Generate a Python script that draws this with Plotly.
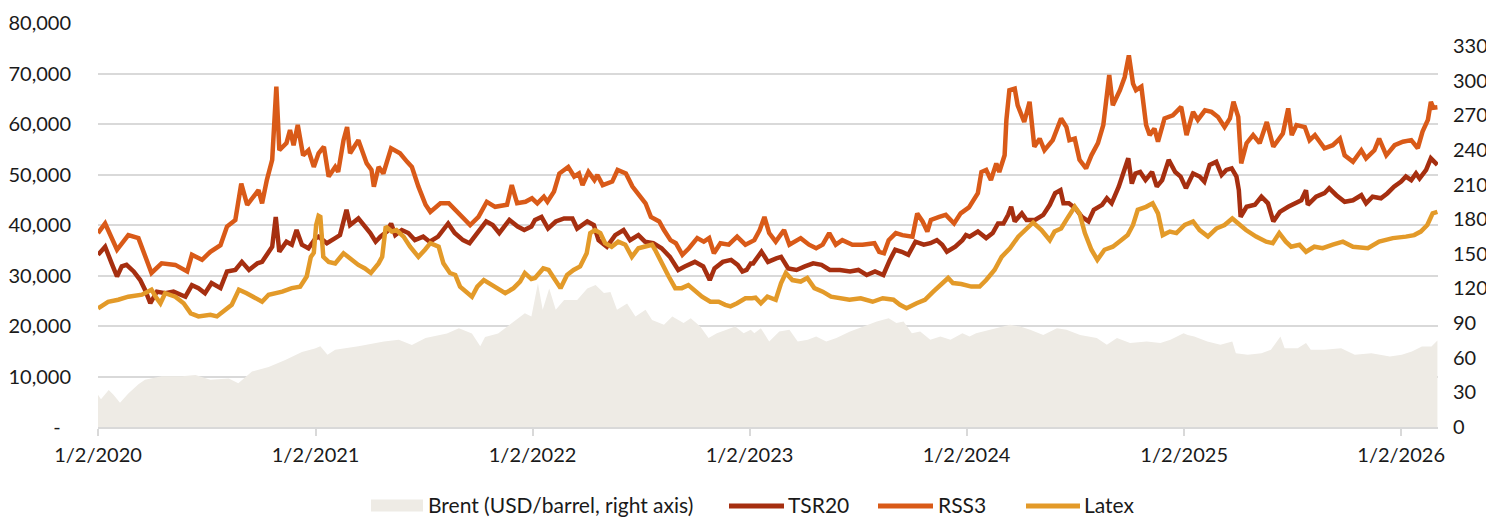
import plotly.graph_objects as go

# ---------------- data ----------------
rss3_dates = ["2020-01-02","2020-01-14","2020-02-03","2020-02-22","2020-03-10","2020-03-21","2020-04-01","2020-04-18","2020-05-11","2020-05-31","2020-06-08","2020-06-25","2020-07-09","2020-07-26","2020-08-06","2020-08-20","2020-08-30","2020-09-09","2020-09-17","2020-09-28","2020-10-04","2020-10-12","2020-10-21","2020-10-28","2020-11-02","2020-11-14","2020-11-20","2020-11-26","2020-12-03","2020-12-12","2020-12-21","2020-12-30",
"2021-01-07","2021-01-16","2021-01-24","2021-02-04","2021-02-09","2021-02-18","2021-02-24","2021-03-01","2021-03-15","2021-03-29","2021-04-06","2021-04-10","2021-04-18","2021-04-26","2021-05-09","2021-05-24","2021-06-05","2021-06-13","2021-06-24","2021-07-06","2021-07-14","2021-07-31","2021-08-14","2021-08-25","2021-09-11","2021-09-19","2021-10-03","2021-10-17","2021-10-31","2021-11-20","2021-11-28","2021-12-07","2021-12-21",
"2022-01-01","2022-01-10","2022-01-21","2022-01-27","2022-02-07","2022-02-16","2022-03-03","2022-03-13","2022-03-21","2022-03-27","2022-04-06","2022-04-16","2022-04-21","2022-04-30","2022-05-16","2022-05-25","2022-06-08","2022-06-19","2022-06-30","2022-07-11","2022-07-20","2022-08-03","2022-08-11","2022-08-22","2022-08-31","2022-09-11","2022-09-22","2022-10-06","2022-10-17","2022-10-26","2022-11-03","2022-11-14","2022-11-28","2022-12-12","2022-12-26",
"2023-01-10","2023-01-19","2023-01-27","2023-02-04","2023-02-15","2023-03-01","2023-03-10","2023-03-29","2023-04-12","2023-04-24","2023-05-05","2023-05-16","2023-05-27","2023-06-07","2023-06-24","2023-07-11","2023-07-31","2023-08-08","2023-08-16","2023-08-24","2023-09-05","2023-09-16","2023-10-03","2023-10-11","2023-10-20","2023-10-28","2023-11-03","2023-11-17","2023-11-28","2023-12-12","2023-12-23",
"2024-01-06","2024-01-21","2024-01-27","2024-02-04","2024-02-12","2024-02-21","2024-02-26","2024-03-06","2024-03-09","2024-03-14","2024-03-23","2024-03-28","2024-04-08","2024-04-17","2024-04-25","2024-05-04","2024-05-12","2024-05-26","2024-06-09","2024-06-18","2024-06-23","2024-07-02","2024-07-10","2024-07-21","2024-07-30","2024-08-10","2024-08-19","2024-08-24","2024-08-29","2024-09-04","2024-09-16","2024-09-24","2024-10-01","2024-10-08","2024-10-13","2024-10-22","2024-10-30","2024-11-05","2024-11-13","2024-11-19","2024-11-30","2024-12-14","2024-12-28",
"2025-01-06","2025-01-17","2025-01-25","2025-02-06","2025-02-17","2025-02-28","2025-03-11","2025-03-20","2025-03-26","2025-04-03","2025-04-08","2025-04-17","2025-04-28","2025-05-09","2025-05-21","2025-06-01","2025-06-17","2025-06-26","2025-07-02","2025-07-10","2025-07-24","2025-08-01","2025-08-10","2025-08-26","2025-09-09","2025-09-21","2025-09-29","2025-10-13","2025-10-27","2025-11-04","2025-11-18","2025-11-26","2025-12-08","2025-12-22",
"2026-01-05","2026-01-19","2026-01-30","2026-02-07","2026-02-16","2026-02-21","2026-02-25","2026-03-04"]
rss3_values = [38400,40300,35100,38000,37400,33700,30500,32400,32100,30800,34100,33100,34700,36000,39700,41000,48200,44000,45300,46900,44300,48900,52900,67400,54800,56200,58800,55800,59800,53800,54800,51500,
54200,55500,49600,51500,50500,56800,59400,54200,56800,52200,50900,47600,51500,50200,55200,54200,52500,51500,47600,44000,42600,44300,44300,43000,40700,40000,41600,44600,43600,44000,47900,44300,44600,
45300,44300,45600,44600,46600,50200,51500,49600,50200,47900,50500,48900,49900,47900,48600,50900,50200,47600,45900,44300,41600,40700,39000,37000,36400,34100,35400,37400,36700,37400,34400,36400,36100,37700,36100,
37000,39000,41600,38400,36700,39000,36100,37400,36100,35400,36100,38400,36100,37000,36100,36100,36400,34700,34400,37000,38400,38000,37700,42300,40700,38700,41000,41600,42000,40300,42300,
43500,46300,50500,50900,48900,52200,50500,53800,60800,66700,67000,63700,60400,64400,55500,57100,54800,56800,61100,59400,56800,57100,52900,51200,53800,56200,59800,64100,69700,63700,66700,69300,73600,68000,66700,67400,59800,57800,59100,56500,61100,61700,63400,
57800,62400,60800,62700,62400,61400,59400,61100,64400,61400,52200,56200,57800,56200,60400,55500,58100,63100,57800,59800,59400,56800,57800,55200,55800,57100,53800,52500,54800,53200,54800,57100,53800,55800,
56500,56800,55200,58500,60800,64400,63200,63300]

tsr20_dates = ["2020-01-02","2020-01-14","2020-01-25","2020-02-03","2020-02-11","2020-02-19","2020-03-02","2020-03-13","2020-03-21","2020-03-30","2020-04-10","2020-04-24","2020-05-08","2020-05-19","2020-05-28","2020-06-08","2020-06-19","2020-06-30","2020-07-11","2020-07-26","2020-08-06","2020-08-20","2020-08-31","2020-09-12","2020-09-26","2020-10-04","2020-10-15","2020-10-21","2020-10-27","2020-11-02","2020-11-14","2020-11-23","2020-12-01","2020-12-10","2020-12-21",
"2021-01-02","2021-01-07","2021-01-21","2021-02-04","2021-02-12","2021-02-23","2021-03-01","2021-03-15","2021-03-26","2021-04-04","2021-04-13","2021-04-21","2021-05-02","2021-05-09","2021-05-16","2021-05-27","2021-06-07","2021-06-18","2021-07-02","2021-07-13","2021-07-27","2021-08-13","2021-08-24","2021-09-07","2021-09-18","2021-10-02","2021-10-16","2021-10-27","2021-11-07","2021-11-24","2021-12-08","2021-12-19","2021-12-31",
"2022-01-06","2022-01-17","2022-01-28","2022-02-10","2022-02-24","2022-03-10","2022-03-18","2022-04-04","2022-04-15","2022-04-23","2022-05-07","2022-05-21","2022-06-04","2022-06-15","2022-06-29","2022-07-10","2022-07-24","2022-08-07","2022-08-21","2022-09-04","2022-09-15","2022-10-02","2022-10-16","2022-10-27","2022-11-04","2022-11-18","2022-12-02","2022-12-13","2022-12-21","2022-12-28",
"2023-01-04","2023-01-08","2023-01-22","2023-02-02","2023-02-16","2023-02-24","2023-03-08","2023-03-22","2023-04-05","2023-04-19","2023-05-03","2023-05-17","2023-06-03","2023-06-20","2023-07-04","2023-07-18","2023-08-01","2023-08-15","2023-08-26","2023-09-04","2023-09-15","2023-09-26","2023-10-08","2023-10-22","2023-11-02","2023-11-13","2023-11-22","2023-11-30","2023-12-14","2023-12-26",
"2024-01-01","2024-01-07","2024-01-21","2024-02-04","2024-02-15","2024-02-24","2024-03-04","2024-03-12","2024-03-17","2024-03-23","2024-04-04","2024-04-12","2024-04-26","2024-05-10","2024-05-21","2024-05-30","2024-06-08","2024-06-13","2024-06-22","2024-07-03","2024-07-14","2024-07-25","2024-08-03","2024-08-17","2024-08-25","2024-09-02","2024-09-14","2024-09-25","2024-09-30","2024-10-06","2024-10-12","2024-10-20","2024-10-29","2024-11-09","2024-11-17","2024-11-26","2024-12-07","2024-12-18","2024-12-27",
"2025-01-05","2025-01-17","2025-01-28","2025-02-05","2025-02-14","2025-02-25","2025-03-06","2025-03-14","2025-03-23","2025-03-31","2025-04-04","2025-04-07","2025-04-17","2025-05-01","2025-05-12","2025-05-23","2025-06-01","2025-06-12","2025-06-26","2025-07-10","2025-07-18","2025-07-26","2025-07-29","2025-08-12","2025-08-26","2025-09-03","2025-09-15","2025-09-29","2025-10-13","2025-10-27","2025-11-04","2025-11-15","2025-11-29","2025-12-10","2025-12-21",
"2026-01-02","2026-01-10","2026-01-19","2026-01-27","2026-02-02","2026-02-13","2026-02-21","2026-03-04"]
tsr20_values = [34100,35700,32400,29800,31800,32100,30800,29100,27200,24500,26800,26500,26800,26200,25800,28100,27500,26500,28500,27500,30800,31100,32700,31100,32400,32700,34700,35700,41600,34700,36700,36100,39000,36100,35400,
37400,37700,36400,37400,38000,43000,40000,41300,39700,38400,36700,37700,38700,40300,38000,39000,38400,37000,37700,36700,37700,40300,38400,37000,36400,38700,40700,40000,38400,41000,39700,39000,39700,
41000,41600,39300,40700,41300,41300,39300,40700,40000,37000,35700,38000,39000,37000,38000,36700,36400,35400,33700,31100,31800,32700,31800,29100,31400,32700,33100,32100,30800,31100,
32400,32400,34700,32700,33400,33700,31400,31100,31800,32400,32100,31100,31100,30800,31100,30100,30800,30100,33100,35100,34700,34100,36700,36100,36400,37000,36100,34700,35700,37000,
38000,37700,38700,37400,38400,40300,40300,42000,43600,40700,42300,41000,41000,42000,44000,46300,46900,44300,44300,43300,41600,40700,43000,44000,45300,44300,47600,51200,53200,48200,50200,50500,48900,50500,47600,48900,52900,50500,49600,
47300,50200,49600,48600,51900,52500,49900,50900,51200,49600,46900,41600,43600,44000,45600,44300,40700,42600,43600,44300,44900,46900,44000,45600,46300,47300,45900,44600,44900,45900,44300,45600,45300,46300,47600,
48600,49600,48900,50200,49200,50900,53200,51900]

latex_dates = ["2020-01-02","2020-01-19","2020-02-05","2020-02-22","2020-03-16","2020-04-01","2020-04-08","2020-04-16","2020-04-24","2020-05-11","2020-05-25","2020-06-06","2020-06-19","2020-07-09","2020-07-20","2020-08-03","2020-08-14","2020-08-26","2020-09-08","2020-10-04","2020-10-15","2020-11-07","2020-11-23","2020-12-07","2020-12-18","2020-12-25","2020-12-30",
"2021-01-03","2021-01-07","2021-01-10","2021-01-15","2021-01-24","2021-02-04","2021-02-18","2021-03-04","2021-03-15","2021-03-26","2021-04-05","2021-04-18","2021-04-24","2021-04-30","2021-05-10","2021-05-18","2021-05-30","2021-06-10","2021-06-24","2021-07-05","2021-07-14","2021-07-28","2021-08-05","2021-08-16","2021-08-25","2021-09-02","2021-09-11","2021-09-22","2021-10-01","2021-10-12","2021-10-26","2021-11-09","2021-11-17","2021-12-01","2021-12-12","2021-12-20","2021-12-31",
"2022-01-06","2022-01-20","2022-01-29","2022-02-09","2022-02-18","2022-03-01","2022-03-12","2022-03-23","2022-04-03","2022-04-09","2022-04-17","2022-04-26","2022-05-04","2022-05-15","2022-05-26","2022-06-07","2022-06-18","2022-06-29","2022-07-11","2022-07-22","2022-07-27","2022-08-08","2022-08-19","2022-08-30","2022-09-10","2022-09-21","2022-10-03","2022-10-14","2022-10-28","2022-11-11","2022-11-22","2022-12-01","2022-12-12","2022-12-26",
"2023-01-06","2023-01-12","2023-01-21","2023-02-01","2023-02-15","2023-02-24","2023-03-04","2023-03-15","2023-03-29","2023-04-09","2023-04-21","2023-05-05","2023-05-19","2023-06-02","2023-06-19","2023-07-08","2023-07-28","2023-08-14","2023-09-01","2023-09-12","2023-09-23","2023-10-10","2023-10-24","2023-11-07","2023-11-18","2023-12-02","2023-12-10","2023-12-24",
"2024-01-10","2024-01-24","2024-02-04","2024-02-18","2024-03-01","2024-03-15","2024-03-29","2024-04-12","2024-04-23","2024-05-07","2024-05-21","2024-05-29","2024-06-09","2024-06-21","2024-07-02","2024-07-10","2024-07-19","2024-07-30","2024-08-09","2024-08-21","2024-09-04","2024-09-18","2024-09-29","2024-10-08","2024-10-16","2024-10-30","2024-11-10","2024-11-19","2024-11-27","2024-12-09","2024-12-20",
"2025-01-03","2025-01-17","2025-01-28","2025-02-11","2025-02-25","2025-03-11","2025-03-24","2025-04-02","2025-04-16","2025-05-03","2025-05-20","2025-05-31","2025-06-11","2025-06-22","2025-07-01","2025-07-15","2025-07-26","2025-08-09","2025-08-23","2025-09-09","2025-09-26","2025-10-13","2025-11-07","2025-11-26","2025-12-19",
"2026-01-10","2026-01-24","2026-02-04","2026-02-15","2026-02-24","2026-03-04"]
latex_values = [23500,24800,25200,25800,26200,27200,25800,24500,26500,25800,24500,22500,21900,22200,21900,23200,24200,27200,26500,24800,26200,26800,27500,27800,29800,33700,34500,
40000,41800,41600,33700,32700,32400,34400,33100,32100,31400,30500,32400,33700,39700,38700,39000,37700,35700,33700,35100,36400,35700,32400,30500,30100,27800,26800,25800,27800,29100,28100,27200,26500,27500,28800,30500,29300,
29500,31400,31100,29100,27500,30100,31100,31800,34400,38400,39000,38400,36400,35700,36700,36100,33700,35400,35700,36100,35100,32100,29800,27500,27500,28100,26800,25800,24800,24800,24200,23900,24500,25500,
25500,25600,24500,25800,25200,28500,30500,29100,28800,29500,27500,26800,25800,25500,25200,25500,24800,25500,25200,24200,23500,24500,25200,26800,28100,29500,28500,28300,
27800,27800,29100,31100,33700,35400,37700,39300,40500,39000,37000,38700,39300,41600,43600,42300,38400,35100,33100,35100,35700,37000,38000,40000,43000,43600,44300,42300,38000,38700,38400,
40000,40700,39000,37700,39300,40000,41300,40300,39000,37700,36700,36400,38400,36700,35700,36100,34700,35700,35400,36100,36700,35700,35400,36700,37400,
37700,38000,38700,40000,42300,42600]

brent_dates = ["2020-01-02","2020-01-07","2020-01-20","2020-01-28","2020-02-08","2020-02-22","2020-03-10","2020-03-21","2020-04-18","2020-05-22","2020-06-14","2020-07-09","2020-08-09","2020-08-25","2020-09-17","2020-10-15","2020-11-12","2020-12-10",
"2021-01-01","2021-01-10","2021-01-22","2021-02-04","2021-03-15","2021-04-27","2021-05-22","2021-06-13","2021-07-06","2021-08-11","2021-08-31","2021-09-22","2021-10-06","2021-10-14","2021-11-05","2021-11-27","2021-12-20","2021-12-31",
"2022-01-06","2022-01-11","2022-01-19","2022-01-30","2022-02-10","2022-02-24","2022-03-18","2022-04-04","2022-04-18","2022-05-02","2022-05-13","2022-05-24","2022-06-10","2022-06-24","2022-07-11","2022-07-22","2022-08-11","2022-08-25","2022-09-13","2022-09-25","2022-10-11","2022-10-25","2022-11-08","2022-11-25","2022-12-09","2022-12-23",
"2023-01-04","2023-01-10","2023-01-21","2023-02-04","2023-02-21","2023-03-10","2023-03-24","2023-04-10","2023-04-24","2023-05-11","2023-05-28","2023-06-20","2023-07-12","2023-08-04","2023-08-24","2023-09-06","2023-09-18","2023-10-02","2023-10-16","2023-11-02","2023-11-19","2023-12-06","2023-12-26",
"2024-01-07","2024-01-18","2024-02-10","2024-02-27","2024-03-15","2024-04-01","2024-04-18","2024-05-10","2024-06-02","2024-06-18","2024-07-11","2024-08-08","2024-08-25","2024-09-11","2024-10-03","2024-10-31","2024-11-23","2024-12-10",
"2025-01-01","2025-01-08","2025-01-19","2025-02-10","2025-03-04","2025-03-24","2025-03-30","2025-04-19","2025-05-12","2025-05-28","2025-06-13","2025-06-20","2025-07-12","2025-07-26","2025-08-03","2025-08-26","2025-09-23","2025-10-16","2025-11-13","2025-12-14",
"2026-01-03","2026-01-20","2026-02-06","2026-02-22","2026-03-04"]
brent_values = [28,24,32,28,21,29,37,41,44,44,45,41,42,38,48,52,58,65,
68,70,62.5,67,70,74,75.5,71,77,81,85.6,81,70,78,81,90,98.6,95.7,
113,124.6,101.5,120,101.5,110,110,120,123,116,117,101.5,107,95.7,101.5,92.8,88.5,95.7,90,94.3,87,77,81.3,84.2,87,81.3,
84.2,81.3,85.6,74,82.7,84.2,74,75.5,78.4,74,77,82.7,87,91.3,94.3,90,91.3,81.3,82.7,75.5,78.4,75.5,81.3,
78.4,81.3,84.2,87,88.5,87,84.2,79.8,85.6,84.2,79.8,77,71.2,77,72.7,74,72.7,75.5,
81.3,79.8,78.4,74,71.2,74,64,62.5,64,67,78.4,68.3,68.3,72.7,67,67,68.3,62.5,64,61,
62.5,65.4,69.7,69.7,75]

left_ticks = [0, 10000, 20000, 30000, 40000, 50000, 60000, 70000, 80000]
left_labels = ["-\u00a0\u00a0", "10,000", "20,000", "30,000", "40,000", "50,000", "60,000", "70,000", "80,000"]
right_ticks = [0, 30, 60, 90, 120, 150, 180, 210, 240, 270, 300, 330]
x_ticks = ["2020-01-02", "2021-01-02", "2022-01-02", "2023-01-02", "2024-01-02", "2025-01-02", "2026-01-02"]
x_labels = ["1/2/2020", "1/2/2021", "1/2/2022", "1/2/2023", "1/2/2024", "1/2/2025", "1/2/2026"]

series_names = ["Brent (USD/barrel, right axis)", "TSR20", "RSS3", "Latex"]
series_colors = ["#EEEBE5", "#A62F10", "#D95A18", "#E39A29"]

FONT = "Lato"
TXT = "#1a1a1a"
GRID = "#D9D9D9"
OFF = 8                      # page body margin of the rendered html
W, H = 1494 - OFF, 518 - OFF
ML, MR, MT, MB = 98 - OFF, 56, 23 - OFF, 91
PW, PH = W - ML - MR, H - MT - MB

fig = go.Figure()
fig.add_trace(go.Scatter(x=brent_dates, y=brent_values, name=series_names[0],
                         mode="lines", line=dict(width=0, color=series_colors[0]), fill="tozeroy",
                         fillcolor=series_colors[0], yaxis="y"))
for nm, col, xs, ys in [(series_names[1], series_colors[1], tsr20_dates, tsr20_values),
                        (series_names[2], series_colors[2], rss3_dates, rss3_values),
                        (series_names[3], series_colors[3], latex_dates, latex_values)]:
    fig.add_trace(go.Scatter(x=xs, y=ys, name=nm, mode="lines",
                             line=dict(color=col, width=4.5), yaxis="y2"))

# ---- legend drawn manually (long swatches like the original); positions in window pixels ----
def px_x(p):
    return (p - OFF - ML) / PW

def px_y(p):
    return (H - MB - (p - OFF)) / PH

legend_y = 504.5
legend_items = [  # swatch start, swatch end, text start
    (371, 423, 427),
    (729, 784, 787),
    (878, 933, 937),
    (1026, 1080, 1083),
]
shapes = []
annotations = []
for i, (s0, s1, t0) in enumerate(legend_items):
    if i == 0:
        shapes.append(dict(type="rect", xref="paper", yref="paper",
                           x0=px_x(s0), x1=px_x(s1), y0=px_y(legend_y + 7), y1=px_y(legend_y - 5),
                           fillcolor=series_colors[0], line=dict(width=0)))
    else:
        shapes.append(dict(type="line", xref="paper", yref="paper",
                           x0=px_x(s0), x1=px_x(s1), y0=px_y(legend_y + 1.5), y1=px_y(legend_y + 1.5),
                           line=dict(color=series_colors[i], width=5)))
    annotations.append(dict(text=series_names[i], xref="paper", yref="paper",
                            x=px_x(t0), y=px_y(legend_y), xanchor="left", yanchor="middle",
                            showarrow=False, borderpad=0,
                            font=dict(family=FONT, size=21, color=TXT)))

fig.update_layout(
    width=W, height=H,
    margin=dict(l=ML, r=MR, t=MT, b=MB, autoexpand=False),
    paper_bgcolor="white", plot_bgcolor="white",
    font=dict(family=FONT, size=20, color=TXT),
    showlegend=False,
    shapes=shapes, annotations=annotations,
    xaxis=dict(type="date", range=["2020-01-02", "2026-03-05"], tickvals=x_ticks, ticktext=x_labels,
               showgrid=False, showline=True, linecolor=GRID, linewidth=1.5, automargin=False,
               ticks="outside", ticklen=7, tickcolor=GRID, tickwidth=1.5,
               tickfont=dict(family=FONT, size=20, color=TXT), ticklabelstandoff=2),
    yaxis=dict(side="right", range=[0, 350], tickvals=right_ticks, showgrid=False, zeroline=False,
               showline=False, ticks="", automargin=False, tickfont=dict(family=FONT, size=20, color=TXT),
               ticklabelstandoff=14),
    yaxis2=dict(overlaying="y", side="left", range=[0, 80000], tickvals=left_ticks, ticktext=left_labels,
                showgrid=True, gridcolor=GRID, gridwidth=1.5, zeroline=False, showline=False, ticks="",
                automargin=False, tickfont=dict(family=FONT, size=20, color=TXT), ticklabelstandoff=26),
)

fig.write_html("out.html")
